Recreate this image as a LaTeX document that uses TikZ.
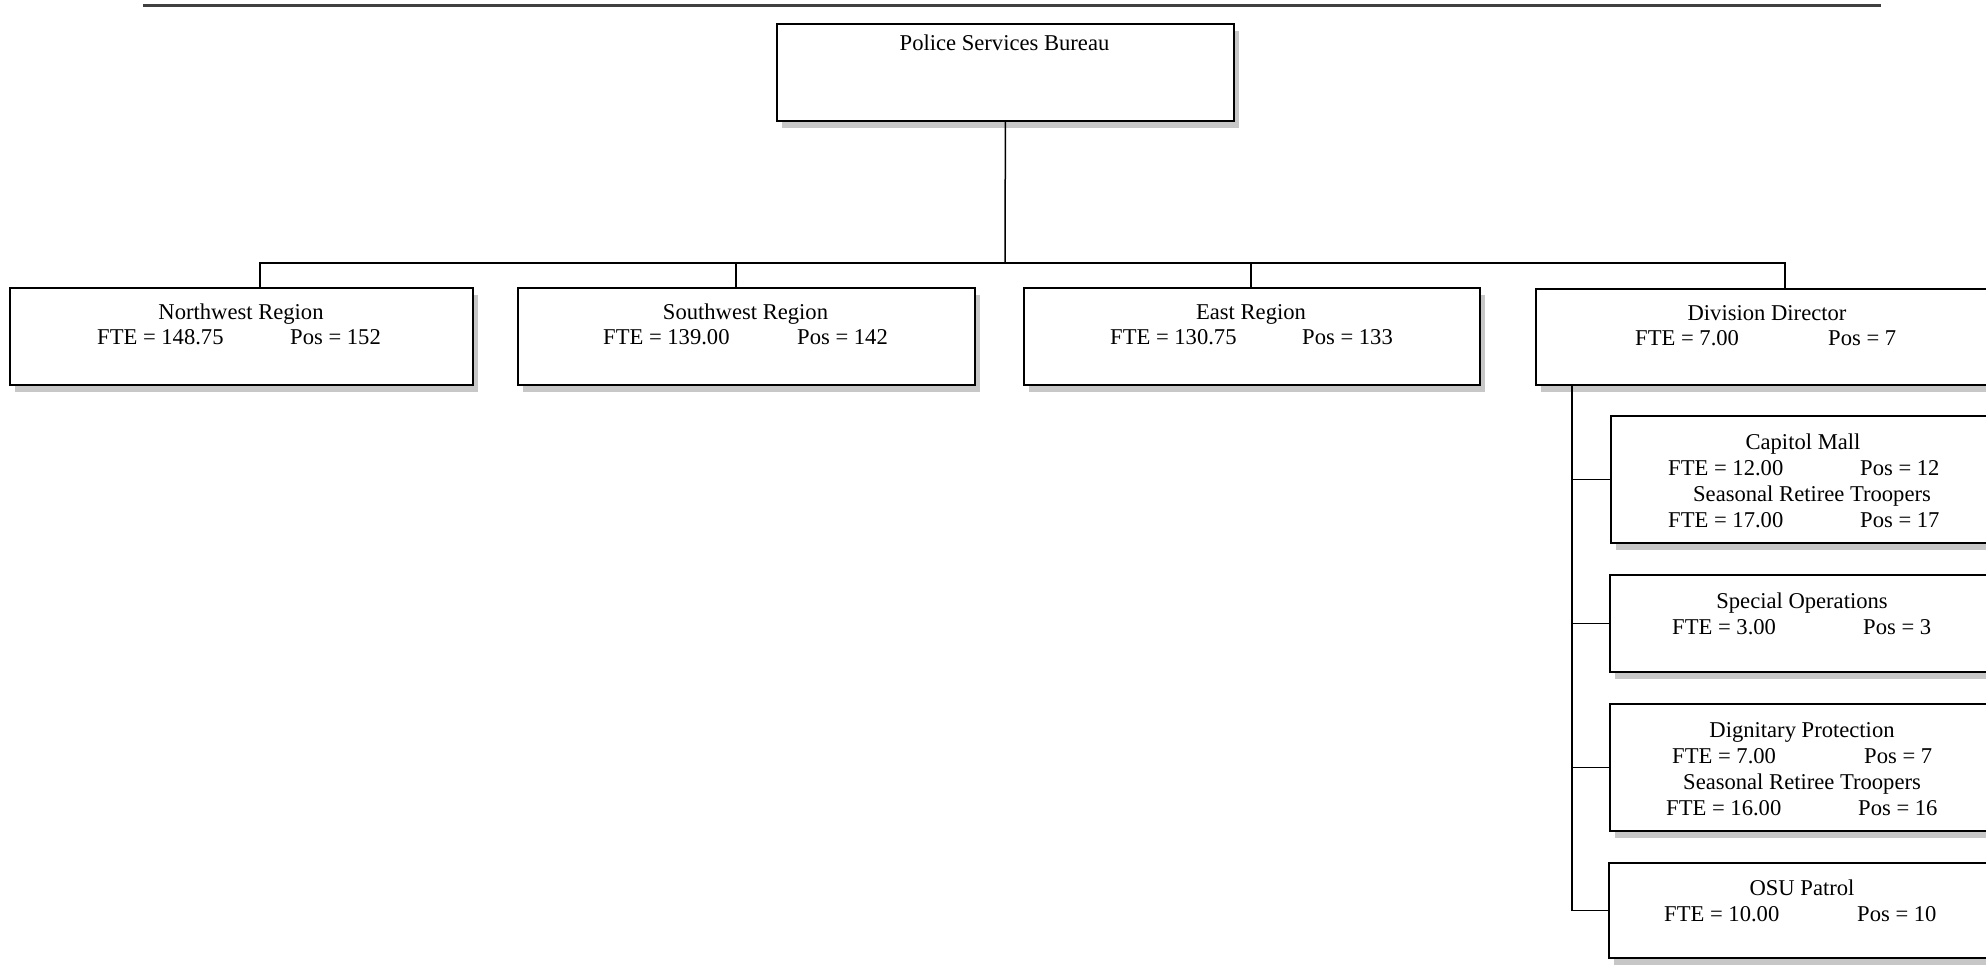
\documentclass[tikz,border=0pt]{standalone}
\usepackage{fontspec}
\setmainfont{Liberation Serif}
\usetikzlibrary{shadows}
\begin{document}
\begin{tikzpicture}[x=1pt,y=-1pt,
  box/.style={draw=black, line width=1.8pt, fill=white, rectangle, anchor=north west, inner sep=0pt,
    drop shadow={shadow xshift=5pt, shadow yshift=-7pt, fill=black!22, opacity=1}},
  txt/.style={font=\fontsize{22.6}{25}\selectfont, inner sep=0pt, anchor=base},
  txtl/.style={txt, anchor=base west},
  link/.style={line width=1.5pt, draw=black},
  rule/.style={line width=3pt, draw=black!75}]
\clip (0,0) rectangle (1986,965);
% top rule
\coordinate (rl) at (143,6);
\coordinate (rr) at (1881,6);
\draw[rule] (rl) -- (rr);
% boxes
\node[box, minimum width=457, minimum height=97] (bur) at (776,23) {};
\node[box, minimum width=463, minimum height=97] (nw) at (9,287) {};
\node[box, minimum width=457, minimum height=97] (sw) at (517,287) {};
\node[box, minimum width=456, minimum height=97] (ea) at (1023,287) {};
\node[box, minimum width=470, minimum height=96] (dd) at (1535,288) {};
\node[box, minimum width=400, minimum height=127] (cm) at (1610,415) {};
\node[box, minimum width=400, minimum height=97] (so) at (1609,574) {};
\node[box, minimum width=400, minimum height=127] (dp) at (1609,703) {};
\node[box, minimum width=400, minimum height=95] (osu) at (1608,862) {};
% connectors
\coordinate (j) at (1005,263);
\coordinate (nwtop) at (260,287);
\coordinate (swtop) at (736,287);
\coordinate (eatop) at (1251,287);
\coordinate (ddtop) at (1785,288);
\draw[link] (bur.south) -- (j);
\draw[link] (nwtop) |- (j) -| (ddtop);
\draw[link] (swtop) -- (swtop |- j);
\draw[link] (eatop) -- (eatop |- j);
\coordinate (trunk) at (1572,384);
\draw[link] (trunk) |- (osu.west);
\draw[link] (trunk |- cm.west) -- (cm.west);
\draw[link] (trunk |- so.west) -- (so.west);
\draw[link] (trunk |- dp.west) -- (dp.west);
% texts
\node[txt] (burt) at (1004.5,51) {Police Services Bureau};

\node[txt] (nwt) at (241,320) {Northwest Region};
\node[txtl] (nwf) at (97,345) {FTE = 148.75};
\node[txtl] (nwp) at (290,345) {Pos = 152};

\node[txt] (swt) at (745.5,320) {Southwest Region};
\node[txtl] (swf) at (603,345) {FTE = 139.00};
\node[txtl] (swp) at (797,345) {Pos = 142};

\node[txt] (eat) at (1251,320) {East Region};
\node[txtl] (eaf) at (1110,345) {FTE = 130.75};
\node[txtl] (eap) at (1302,345) {Pos = 133};

\node[txt] (ddt) at (1767,321) {Division Director};
\node[txtl] (ddf) at (1635,346) {FTE = 7.00};
\node[txtl] (ddp) at (1828,346) {Pos = 7};

\node[txt] (cmt) at (1803,449) {Capitol Mall};
\node[txtl] (cmf) at (1668,475) {FTE = 12.00};
\node[txtl] (cmp) at (1860,475) {Pos = 12};
\node[txt] (cmt2) at (1812,501) {Seasonal Retiree Troopers};
\node[txtl] (cmf2) at (1668,527) {FTE = 17.00};
\node[txtl] (cmp2) at (1860,527) {Pos = 17};

\node[txt] (sot) at (1802,608) {Special Operations};
\node[txtl] (sof) at (1672,634) {FTE = 3.00};
\node[txtl] (sop) at (1863,634) {Pos = 3};

\node[txt] (dpt) at (1802,737) {Dignitary Protection};
\node[txtl] (dpf) at (1672,763) {FTE = 7.00};
\node[txtl] (dpp) at (1864,763) {Pos = 7};
\node[txt] (dpt2) at (1802,789) {Seasonal Retiree Troopers};
\node[txtl] (dpf2) at (1666,815) {FTE = 16.00};
\node[txtl] (dpp2) at (1858,815) {Pos = 16};

\node[txt] (osut) at (1802,895) {OSU Patrol};
\node[txtl] (osuf) at (1664,921) {FTE = 10.00};
\node[txtl] (osup) at (1857,921) {Pos = 10};
\end{tikzpicture}
\end{document}
